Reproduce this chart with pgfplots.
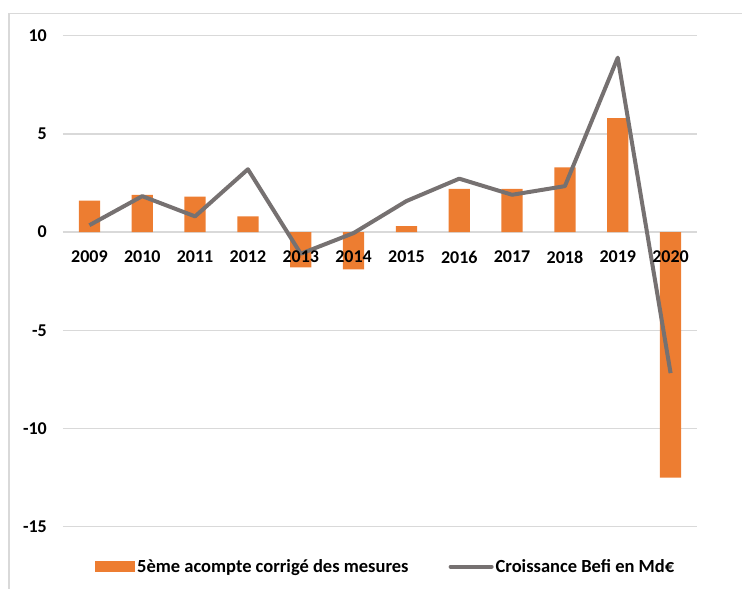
\documentclass[border=0pt]{standalone}
\usepackage{fontspec}
\setmainfont{Carlito}
\usepackage{pgfplots}
\pgfplotsset{compat=1.18}
\definecolor{barorange}{HTML}{ED7D31}
\definecolor{linegray}{HTML}{767171}
\definecolor{gridgray}{HTML}{D9D9D9}
\pgfplotsset{
  base/.style={
    scale only axis,
    width=634pt, height=491pt,
    xmin=-0.5, xmax=11.5,
    ymin=-15, ymax=10,
    axis line style={draw=none},
    major tick length=0pt,
    /pgf/number format/assume math mode=true,
    tick label style={font=\bfseries\fontsize{18}{21}\selectfont, text=black},
  }
}
\begin{document}
\begin{tikzpicture}
\path[use as bounding box] (-63pt,-62.3pt) rectangle (679pt,526.7pt);
\draw[gridgray, line width=1.2pt] (-54pt,-62.3pt) -- (-54pt,513pt) -- (679pt,513pt);
\begin{axis}[
  base,
  xtick=\empty,
  ytick={-15,-10,-5,0,5,10},
  ymajorgrids,
  grid style={gridgray, line width=1.3pt},
  yticklabel style={anchor=east, inner sep=0pt, xshift=-16pt},
  legend columns=2,
  legend style={at={(0.509,-0.0815)}, anchor=center, draw=none, fill=none,
    font=\bfseries\fontsize{18.5}{21}\selectfont,
    /tikz/every even column/.append style={column sep=38pt}},
  legend cell align=left,
]
\addplot[ybar, bar width=21.3pt, fill=barorange, draw=none,
  legend image code/.code={\fill[barorange] (0pt,-5.5pt) rectangle (40pt,5.5pt);}]
  coordinates {(0,1.6) (1,1.9) (2,1.8) (3,0.8) (4,-1.8) (5,-1.9) (6,0.3) (7,2.2) (8,2.2) (9,3.3) (10,5.8) (11,-12.5)};
\addlegendentry{5ème acompte corrigé des mesures}
\addplot[linegray, line width=4pt, line join=round, mark=none,
  legend image code/.code={\draw[linegray, line width=4pt, line cap=round] (0pt,0pt) -- (41pt,0pt);}]
  coordinates {(0,0.35) (1,1.83) (2,0.8) (3,3.2) (4,-1.1) (5,-0.05) (6,1.58) (7,2.72) (8,1.9) (9,2.34) (10,8.88) (11,-7.18)};
\addlegendentry{Croissance Befi en Md€}
\end{axis}
\begin{axis}[
  base,
  ytick=\empty,
  xtick={0,...,11},
  xticklabels={2009,2010,2011,2012,2013,2014,2015,2016,2017,2018,2019,2020},
  xticklabel style={anchor=center, inner sep=0pt, yshift=269.6pt},
]
\end{axis}
\end{tikzpicture}
\end{document}
